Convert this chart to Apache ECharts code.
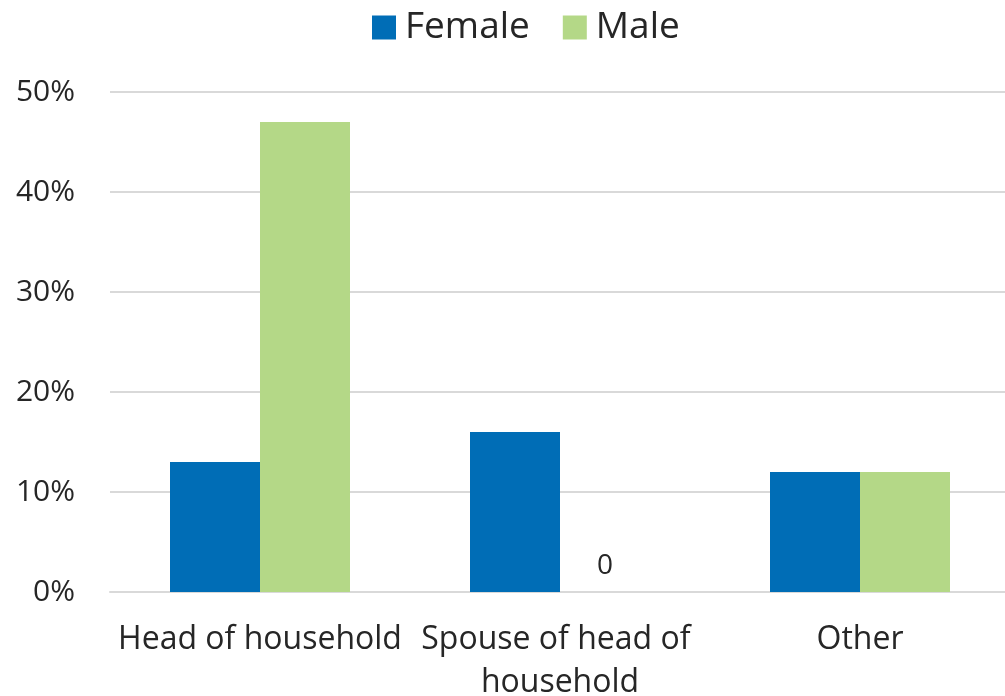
<!DOCTYPE html>
<html>
<head>
<meta charset="utf-8">
<script src="https://cdn.jsdelivr.net/npm/echarts@6/dist/echarts.min.js"></script>
<style>
  html, body { margin: 0; padding: 0; background: #fff; }
  #chart { width: 1005px; height: 696px; }
</style>
</head>
<body>
<div id="chart"></div>
<script>
  var categories = ['Head of household', 'Spouse of head of household', 'Other'];
  var femaleValues = [13, 16, 12];
  var maleValues = [47, 0, 12];
  var yTicks = [0, 10, 20, 30, 40, 50];

  var textColor = '#262626';
  var fontFamily = '"Open Sans", "Noto Sans", sans-serif';

  var option = {
    animation: false,
    textStyle: { fontFamily: fontFamily, color: textColor },
    legend: {
      top: 4,
      left: 367,
      itemWidth: 24,
      itemHeight: 24,
      itemGap: 33,
      icon: 'rect',
      textStyle: { fontSize: 37, color: textColor, fontFamily: fontFamily, padding: [0, 0, 0, 4] },
      data: ['Female', 'Male']
    },
    grid: {
      left: 110, right: -5, top: 92, bottom: 104,
      containLabel: false,
      outerBoundsMode: 'none'
    },
    xAxis: {
      type: 'category',
      data: categories,
      axisLine: { lineStyle: { color: '#d9d9d9', width: 2 } },
      axisTick: { show: false },
      axisLabel: {
        fontSize: 32,
        color: textColor,
        margin: 26,
        lineHeight: 43,
        width: 300,
        overflow: 'break',
        interval: 0
      }
    },
    yAxis: {
      type: 'value',
      min: yTicks[0],
      max: yTicks[yTicks.length - 1],
      interval: 10,
      axisLine: { show: false },
      axisTick: { show: false },
      splitLine: { lineStyle: { color: '#d9d9d9', width: 2 } },
      axisLabel: {
        fontSize: 30,
        color: textColor,
        margin: 35,
        formatter: '{value}%'
      }
    },
    series: [
      {
        name: 'Female',
        type: 'bar',
        data: femaleValues,
        barGap: '0%',
        barCategoryGap: '40%',
        itemStyle: { color: '#006DB6' }
      },
      {
        name: 'Male',
        type: 'bar',
        data: maleValues.map(function (v) {
          return v === 0
            ? { value: v, label: { show: true, position: 'top', distance: 12, fontSize: 28, color: textColor, formatter: '0' } }
            : v;
        }),
        itemStyle: { color: '#B4D887' }
      }
    ]
  };

  var myChart = echarts.init(document.getElementById('chart'));
  myChart.setOption(option);
</script>
</body>
</html>
